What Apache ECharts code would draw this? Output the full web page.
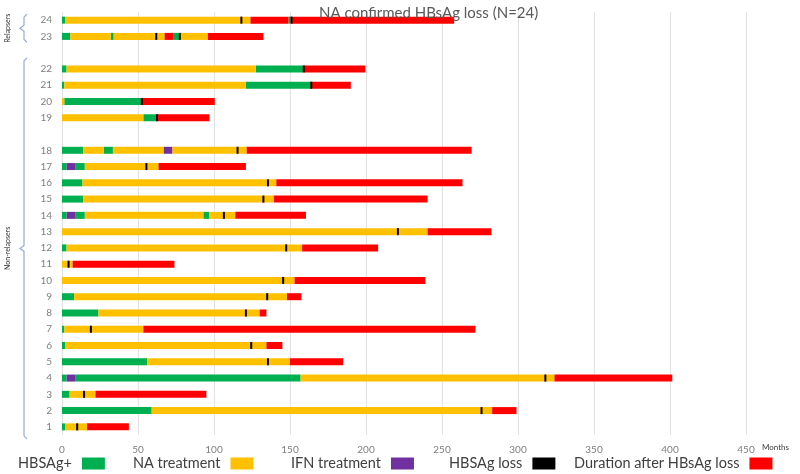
<!DOCTYPE html>
<html><head><meta charset="utf-8">
<script src="https://cdn.jsdelivr.net/npm/echarts@6/dist/echarts.min.js"></script>
<style>html,body{margin:0;padding:0;background:#fff}#c{width:800px;height:474px}</style>
</head><body><div id="c"></div>
<script>
// Row categories (bottom to top); gap rows separate the groups
const categories = ['1','2','3','4','5','6','7','8','9','10','11','12','13','14','15','16','17','18','gapA','19','20','21','22','gapB','23','24'];
const xTicks = [0, 50, 100, 150, 200, 250, 300, 350, 400, 450];
const legendNames = ['HBSAg+', 'NA treatment', 'IFN treatment', 'HBSAg loss', 'Duration after HBsAg loss'];

// [patient, startMonth, endMonth]
const hbsagPositive = [
  [1,0,2],[2,0,59],[3,0,5],[4,0,3],[4,9,157],[5,0,56],[6,0,2],[7,0,1.5],[8,0,24],[9,0,8],
  [12,0,3],[14,0,3],[14,9,15],[14,93,97],[15,0,14],[16,0,13.5],[17,0,3],[17,9,15],
  [18,0,14],[18,27.5,33.5],[19,53.5,62.5],[20,1.5,52.5],[21,0,1.5],[21,121,164],
  [22,0,3],[22,127.5,158.5],[23,0,5.5],[23,32,34],[23,73,77.5],[24,0,2],[24,149,150.5]
];
const naTreatment = [
  [1,2,16.5],[2,59,283],[3,5,22],[4,157,324],[5,56,150],[6,2,134.5],[7,1.5,53.5],[8,24,130],
  [9,8,148],[10,0,153],[11,0,7],[12,3,158],[13,0,240.5],[14,15,93],[14,97,114],[15,14,139.5],
  [16,13.5,141],[17,15,63.5],[18,14,27.5],[18,33.5,67],[18,72.5,121.5],[19,0,53.5],[20,0,1.5],
  [21,1.5,121],[22,3,127.5],[23,5.5,32],[23,34,67.5],[23,77.5,96],[24,2,124]
];
const ifnTreatment = [
  [4,3,9],[14,3,9],[17,3,9],[18,67,72.5]
];
// [patient, month]
const hbsagLoss = [
  [1,10],[2,276],[3,14.5],[4,318],[5,135.5],[6,124.5],[7,19],[8,121],[9,135],[10,145.5],
  [11,4.3],[12,147.5],[13,221],[14,106.5],[15,132.5],[16,135.5],[17,55.5],[18,115.5],
  [19,62.5],[20,52.5],[21,164],[22,159],[23,62],[23,77.5],[24,118],[24,151]
];
const afterLoss = [
  [1,16.5,44],[2,283,299],[3,22,95],[4,324,401.5],[5,150,185],[6,134.5,145],[7,53.5,272],
  [8,130,134.5],[9,148,157.5],[10,153,239],[11,7,74],[12,158,208],[13,240.5,282.5],
  [14,114,160.5],[15,139.5,240.5],[16,141,263.5],[17,63.5,121],[18,121.5,269.5],[19,63,97],
  [20,52.5,100.5],[21,164,190],[22,159,199.5],[23,67.5,73],[23,96,132.5],[24,124,149],[24,151,258]
];

const BAR_H = 7;
const rowIdx = p => categories.indexOf(String(p));
const segData = arr => arr.map(d => [rowIdx(d[0]), d[1], d[2]]);

function renderSeg(params, api) {
  const r = api.value(0);
  const s = api.coord([api.value(1), r]);
  const e = api.coord([api.value(2), r]);
  return { type: 'rect', shape: { x: s[0], y: s[1] - BAR_H / 2, width: e[0] - s[0], height: BAR_H }, style: api.style() };
}
function renderMark(params, api) {
  const r = api.value(0);
  const p = api.coord([api.value(1), r]);
  return { type: 'rect', shape: { x: p[0] - 1, y: p[1] - BAR_H / 2, width: 2, height: BAR_H }, style: api.style() };
}
function segSeries(name, color, data, z) {
  return { name, type: 'custom', renderItem: renderSeg, itemStyle: { color }, encode: { x: [1, 2], y: 0 }, data: segData(data), z };
}

const FONT = 'Lato';
const legendLeft = [18, 133, 291, 449, 574];
const legends = legendNames.map((n, i) => ({
  left: legendLeft[i], top: 456, align: 'right', icon: 'rect', itemWidth: 23, itemHeight: 12, padding: 0,
  textStyle: { fontFamily: FONT, fontSize: 14.5, color: '#404040', padding: [0, 5, 0, 0] },
  data: [n]
}));

const chart = echarts.init(document.getElementById('c'), null, { renderer: 'canvas' });
chart.setOption({
  animation: false,
  title: { text: 'NA confirmed HBsAg loss (N=24)', left: 314, top: 1, textStyle: { fontFamily: FONT, fontSize: 15, fontWeight: 'normal', color: '#595959' } },
  grid: { left: 62, right: 54, top: 12, bottom: 39 },
  legend: legends,
  xAxis: {
    type: 'value', min: xTicks[0], max: xTicks[xTicks.length - 1], interval: 50,
    name: 'Months', nameLocation: 'end', nameGap: 16,
    nameTextStyle: { fontFamily: FONT, fontSize: 8, color: '#404040', verticalAlign: 'top', padding: [8, 0, 0, 0] },
    axisLine: { show: false }, axisTick: { show: false },
    axisLabel: { fontFamily: FONT, fontSize: 10, color: '#7f7f7f', margin: 10 },
    splitLine: { show: true, lineStyle: { color: '#e3e3e3', width: 1.2 } }
  },
  yAxis: {
    type: 'category', data: categories, boundaryGap: true,
    axisLine: { show: false }, axisTick: { show: false },
    axisLabel: { fontFamily: FONT, fontSize: 10, color: '#7f7f7f', margin: 10, formatter: v => v.startsWith('gap') ? '' : v },
    splitLine: { show: false }
  },
  series: [
    segSeries(legendNames[0], '#00B050', hbsagPositive, 2),
    segSeries(legendNames[1], '#FFC000', naTreatment, 2),
    segSeries(legendNames[2], '#7030A0', ifnTreatment, 3),
    segSeries(legendNames[4], '#FF0000', afterLoss, 2),
    { name: legendNames[3], type: 'custom', renderItem: renderMark, itemStyle: { color: '#000000' }, encode: { x: 1, y: 0 },
      data: hbsagLoss.map(d => [rowIdx(d[0]), d[1]]), z: 5 }
  ]
});

// group braces, positioned from the category axis
const py = c => chart.convertToPixel({ yAxisIndex: 0 }, c);
function brace(top, bottom) {
  const mid = (top + bottom) / 2, xr = 27, xm = 24, xl = 20;
  return { type: 'polyline', shape: { points: [[xr, top], [xm, top + 3], [xm, mid - 3], [xl, mid], [xm, mid + 3], [xm, bottom - 3], [xr, bottom]] },
    style: { stroke: '#8faadc', lineWidth: 1.2, fill: null } };
}
function vlabel(text, y) {
  return { type: 'text', x: 8, y, rotation: Math.PI / 2,
    style: { text, fontFamily: FONT, fontSize: 7, fill: '#333', textAlign: 'center', textVerticalAlign: 'middle' } };
}
const rTop = py('24') - 6, rBot = py('23') + 6;
const nTop = py('22') - 11, nBot = py('1') + 12;
chart.setOption({ graphic: [brace(rTop, rBot), brace(nTop, nBot), vlabel('Relapsers', (rTop + rBot) / 2), vlabel('Non-relapsers', (nTop + nBot) / 2)] });
</script></body></html>
